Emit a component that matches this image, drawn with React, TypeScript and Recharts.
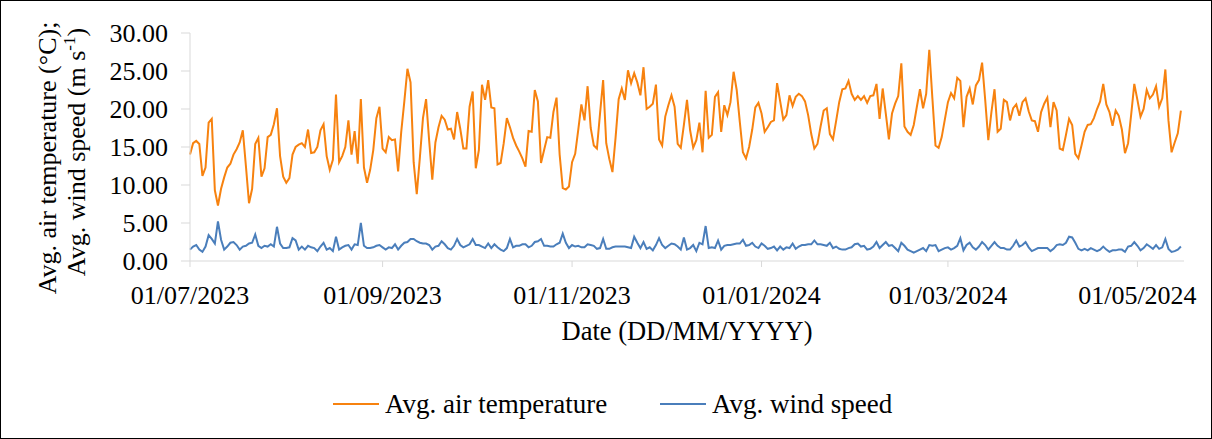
import React from "react";
import { Line, LineChart, XAxis, YAxis } from "recharts";

// daily values, 01/07/2023 (day 0) to 15/05/2024 (day 319)
const airTemperature = [
  14.0, 15.5, 15.8, 15.4, 11.2, 12.3, 18.2, 18.7, 9.3, 7.3,
  9.5, 11.0, 12.3, 12.8, 14.0, 14.7, 15.6, 17.2, 12.5, 7.6,
  9.5, 15.4, 16.2, 11.1, 12.2, 16.3, 16.6, 18.0, 20.1, 13.8,
  11.1, 10.3, 10.9, 14.0, 15.0, 15.3, 15.5, 15.0, 17.3, 14.2,
  14.3, 15.0, 17.2, 18.0, 13.8, 12.0, 13.3, 21.9, 13.0, 13.8,
  15.0, 18.5, 14.0, 17.1, 12.8, 21.3, 12.3, 10.3, 12.0, 14.6,
  18.8, 20.3, 14.8, 14.3, 16.3, 15.9, 16.0, 11.8, 17.0, 21.0,
  25.3, 23.5, 13.0, 8.8, 13.6, 18.8, 21.3, 15.8, 10.7, 15.6,
  17.6, 19.1, 18.6, 17.3, 17.4, 16.0, 19.6, 17.4, 14.8, 14.8,
  20.3, 22.3, 12.2, 14.6, 23.2, 21.2, 23.8, 20.2, 20.1, 12.7,
  12.9, 15.5, 18.8, 17.6, 16.2, 15.2, 14.4, 13.5, 12.4, 17.1,
  17.0, 22.5, 21.0, 12.9, 14.6, 16.3, 16.2, 19.6, 21.5, 14.0,
  9.6, 9.4, 9.8, 13.0, 14.1, 17.3, 20.6, 18.5, 23.0, 17.5,
  15.2, 14.8, 19.4, 23.8, 15.5, 13.4, 11.7, 16.2, 21.3, 22.7,
  21.2, 25.1, 23.4, 24.7, 23.5, 21.8, 25.5, 20.0, 20.3, 20.7,
  23.2, 16.0, 15.2, 19.0, 20.5, 21.8, 20.3, 15.4, 14.9, 17.9,
  21.2, 17.2, 14.9, 15.9, 18.2, 14.3, 22.4, 16.2, 16.6, 21.6,
  22.2, 17.0, 20.5, 19.2, 20.9, 24.9, 22.5, 18.3, 14.3, 13.5,
  15.0, 17.3, 20.2, 20.8, 19.4, 17.0, 17.6, 18.3, 18.5, 23.4,
  21.0, 18.6, 19.2, 21.8, 20.4, 21.6, 22.0, 21.7, 21.0, 19.2,
  16.7, 14.8, 15.4, 17.7, 19.8, 20.1, 16.7, 16.0, 18.4, 20.9,
  22.6, 22.7, 23.7, 22.0, 21.2, 21.7, 21.2, 21.7, 20.8, 21.7,
  21.8, 23.3, 18.7, 22.7, 19.4, 16.0, 19.4, 20.7, 21.7, 26.0,
  17.7, 17.0, 16.6, 17.9, 20.3, 22.6, 20.1, 22.0, 27.8, 21.4,
  15.2, 14.9, 16.3, 18.6, 20.9, 22.1, 21.4, 24.1, 23.7, 17.6,
  21.6, 22.7, 20.6, 23.1, 23.8, 26.1, 21.2, 15.9, 19.6, 22.6,
  17.0, 17.4, 21.2, 20.9, 18.5, 20.1, 20.6, 19.1, 20.9, 21.4,
  19.7, 18.5, 18.4, 17.0, 19.6, 20.7, 21.5, 17.6, 20.9, 19.8,
  14.8, 14.6, 16.6, 18.7, 17.9, 14.1, 13.5, 15.2, 17.0, 17.9,
  18.0, 18.8, 20.0, 21.0, 23.3, 20.6, 19.6, 17.8, 19.8, 19.1,
  17.3, 14.2, 15.5, 19.3, 23.3, 21.2, 19.0, 20.0, 22.5, 21.4,
  21.9, 23.0, 20.3, 21.4, 25.2, 18.5, 14.3, 15.6, 16.8, 19.8,
];

const windSpeed = [
  1.5, 1.9, 2.1, 1.5, 1.2, 1.9, 3.4, 2.9, 2.3, 5.2,
  2.8, 1.5, 1.9, 2.4, 2.5, 2.1, 1.5, 1.9, 2.0, 2.3,
  2.4, 3.5, 2.0, 1.7, 2.0, 1.9, 2.2, 1.9, 4.5, 2.3,
  1.7, 1.7, 1.8, 3.0, 2.7, 1.5, 1.9, 1.5, 2.0, 1.8,
  1.7, 1.3, 1.9, 2.4, 1.5, 1.7, 1.3, 3.2, 1.5, 1.8,
  2.0, 2.1, 1.5, 2.2, 2.1, 5.0, 2.0, 1.7, 1.7, 1.8,
  2.0, 2.1, 1.8, 1.5, 1.8, 1.7, 2.2, 1.5, 2.0, 2.4,
  2.5, 2.9, 2.9, 2.6, 2.4, 2.3, 2.3, 2.1, 1.5, 1.9,
  2.0, 2.6, 2.2, 1.7, 1.5, 2.0, 2.9, 2.1, 1.8, 2.0,
  2.2, 2.9, 2.1, 2.1, 1.9, 1.7, 2.3, 1.7, 2.2, 1.8,
  1.5, 1.3, 1.7, 2.9, 1.8, 2.0, 2.0, 2.2, 2.2, 1.8,
  2.0, 2.5, 2.6, 2.9, 2.0, 2.0, 1.9, 1.9, 2.2, 2.4,
  3.6, 2.4, 1.7, 2.1, 1.9, 2.0, 1.8, 1.8, 2.2, 2.1,
  2.0, 1.6, 1.7, 2.9, 1.6, 1.6, 1.8, 1.9, 1.9, 1.9,
  1.9, 1.8, 1.7, 3.2, 2.4, 1.7, 2.5, 1.6, 1.8, 1.4,
  2.1, 3.0, 2.1, 1.7, 2.0, 2.3, 2.2, 1.9, 1.5, 3.1,
  1.5, 1.7, 2.1, 1.3, 2.4, 2.2, 4.6, 1.7, 1.8, 1.7,
  2.7, 1.5, 2.0, 2.1, 2.1, 2.2, 2.3, 2.3, 2.8, 2.0,
  2.1, 2.4, 1.9, 1.7, 2.3, 2.0, 1.6, 1.7, 1.9, 1.4,
  1.9, 1.5, 1.8, 1.7, 2.3, 1.6, 1.9, 2.1, 2.1, 2.2,
  2.2, 2.7, 2.2, 2.2, 2.1, 2.0, 2.4, 1.7, 1.9, 1.6,
  1.5, 1.5, 1.7, 1.8, 2.2, 2.3, 1.9, 2.0, 1.5, 1.6,
  1.9, 2.5, 1.7, 2.1, 2.5, 2.0, 2.1, 1.7, 1.3, 2.4,
  2.0, 1.5, 1.3, 1.1, 1.3, 1.5, 1.7, 1.3, 2.1, 2.0,
  2.1, 1.3, 1.5, 1.7, 1.8, 1.5, 1.7, 2.0, 3.0, 1.4,
  2.1, 2.4, 1.8, 1.5, 1.9, 2.5, 2.1, 1.5, 2.0, 2.5,
  2.0, 1.7, 1.7, 1.5, 1.5, 2.0, 2.7, 1.9, 2.1, 2.5,
  1.8, 1.3, 1.5, 1.7, 1.7, 1.7, 1.7, 1.3, 1.6, 2.1,
  2.2, 2.1, 2.4, 3.2, 3.1, 2.4, 1.6, 1.4, 1.6, 1.4,
  1.7, 1.5, 1.3, 1.5, 1.9, 1.5, 1.2, 1.4, 1.4, 1.5,
  1.5, 1.2, 1.9, 2.0, 2.5, 2.0, 1.4, 1.7, 2.2, 1.9,
  1.6, 2.1, 1.6, 1.8, 2.9, 1.6, 1.2, 1.3, 1.5, 1.9,
];

// day offsets from 01/07/2023 and their labels
const dateTicks = [0, 62, 123, 184, 244, 305];
const dateLabels = [
  "01/07/2023",
  "01/09/2023",
  "01/11/2023",
  "01/01/2024",
  "01/03/2024",
  "01/05/2024",
];
const yTicks = [0, 5, 10, 15, 20, 25, 30];

const TEMP_COLOR = "#f7820f";
const WIND_COLOR = "#4a7ebb";
const AXIS_COLOR = "#d9d9d9";
const FONT = "Liberation Serif, DejaVu Serif, Times New Roman, serif";

const data = airTemperature.map((t, i) => ({
  day: i,
  temp: t,
  wind: windSpeed[i],
}));

const YTitle = () => {
  const cy = 157;
  const x1 = 55;
  const x2 = 84;
  return (
    <g style={{ fontFamily: FONT }} fontSize={26} fill="#000">
      <text x={x1} y={cy} textAnchor="middle" transform={`rotate(-90, ${x1}, ${cy})`}>
        Avg. air temperature (°C);
      </text>
      <text x={x2} y={cy - 6} textAnchor="middle" transform={`rotate(-90, ${x2}, ${cy - 6})`}>
        Avg. wind speed (m s
        <tspan fontSize={17} dy={-10}>-1</tspan>
        <tspan dy={10}>)</tspan>
      </text>
    </g>
  );
};

const XTitle = (props: any) => {
  const vb = props.viewBox || { x: 189, y: 260, width: 994 };
  return (
    <text
      x={vb.x + vb.width / 2}
      y={339}
      textAnchor="middle"
      style={{ fontFamily: FONT }}
      fontSize={26.5}
      fill="#000"
    >
      Date (DD/MM/YYYY)
    </text>
  );
};

const LegendItem = ({ color, label, left }: { color: string; label: string; left: number }) => (
  <div style={{ position: "absolute", left, top: 388, display: "flex", alignItems: "center" }}>
    <svg width={46} height={30}>
      <line x1={0} y1={15} x2={46} y2={15} stroke={color} strokeWidth={2} />
    </svg>
    <span style={{ fontFamily: FONT, fontSize: 27, marginLeft: 6, lineHeight: "30px" }}>{label}</span>
  </div>
);

export default function App() {
  return (
    <div
      style={{
        position: "absolute",
        left: 0,
        top: 0,
        width: 1212,
        height: 439,
        border: "1px solid #000",
        boxSizing: "border-box",
        background: "#fff",
        fontFamily: FONT,
      }}
    >
      <LineChart
        width={1210}
        height={437}
        data={data}
        margin={{ top: 32, right: 27, left: 0, bottom: 117 }}
        style={{ fontFamily: FONT }}
      >
        <XAxis
          dataKey="day"
          type="number"
          domain={[0, 320]}
          ticks={dateTicks}
          tickFormatter={(v: number) => dateLabels[dateTicks.indexOf(v)] ?? ""}
          stroke={AXIS_COLOR}
          tickSize={6}
          tickMargin={19}
          height={60}
          tick={{ fill: "#000", fontSize: 26, style: { fontFamily: FONT } }}
          interval={0}
          label={<XTitle />}
        />
        <YAxis
          domain={[0, 30]}
          ticks={yTicks}
          tickFormatter={(v: number) => v.toFixed(2)}
          stroke={AXIS_COLOR}
          tickSize={9}
          tickMargin={13}
          width={189}
          tick={{ fill: "#000", fontSize: 26, style: { fontFamily: FONT } }}
          interval={0}
          label={<YTitle />}
        />
        <Line
          dataKey="temp"
          type="linear"
          stroke={TEMP_COLOR}
          strokeWidth={2}
          dot={false}
          isAnimationActive={false}
        />
        <Line
          dataKey="wind"
          type="linear"
          stroke={WIND_COLOR}
          strokeWidth={2}
          dot={false}
          isAnimationActive={false}
        />
      </LineChart>
      <LegendItem color={TEMP_COLOR} label="Avg. air temperature" left={332} />
      <LegendItem color={WIND_COLOR} label="Avg. wind speed" left={659} />
    </div>
  );
}
